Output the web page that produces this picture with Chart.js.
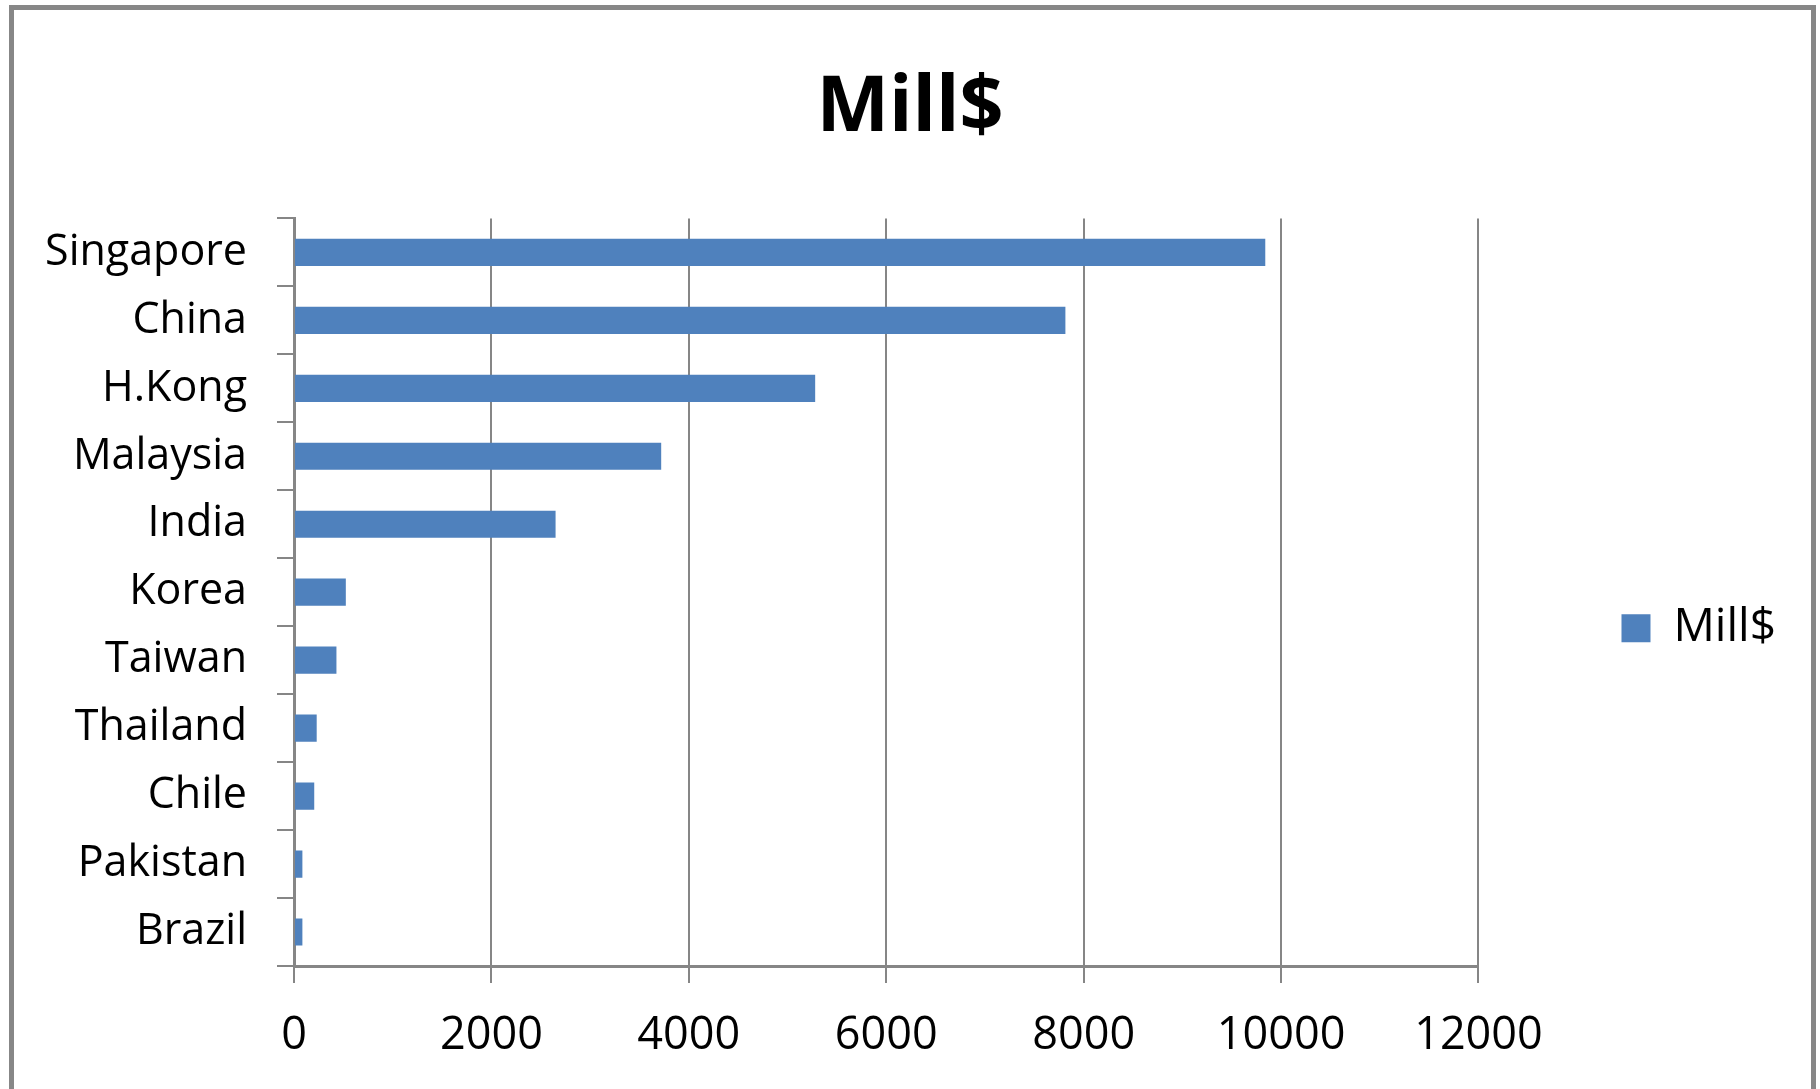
<!DOCTYPE html>
<html>
<head>
<meta charset="utf-8">
<script src="https://cdn.jsdelivr.net/npm/chart.js@4.4.1/dist/chart.umd.min.js"></script>
<style>
  html, body { margin: 0; padding: 0; background: #ffffff; }
  canvas { display: block; }
</style>
</head>
<body>
<canvas id="c" width="1820" height="1089"></canvas>
<script>
const categories = ["Singapore", "China", "H.Kong", "Malaysia", "India", "Korea", "Taiwan", "Thailand", "Chile", "Pakistan", "Brazil"];
const seriesName = "Mill$";
const millValues = [9840, 7815, 5280, 3720, 2650, 525, 430, 230, 205, 85, 85];
const xTicks = [0, 2000, 4000, 6000, 8000, 10000, 12000];

const FONT = "'Open Sans', 'Liberation Sans', sans-serif";
const GRID = '#868686';

const framePlugin = {
  id: 'frame',
  beforeDraw(chart) {
    const ctx = chart.ctx;
    ctx.save();
    ctx.fillStyle = '#ffffff';
    ctx.fillRect(0, 0, chart.width, chart.height);
    ctx.strokeStyle = '#878787';
    ctx.lineWidth = 5;
    ctx.strokeRect(11.5, 7.5, 1802, 1200);
    ctx.restore();
  }
};

new Chart(document.getElementById('c'), {
  type: 'bar',
  data: {
    labels: categories,
    datasets: [{
      label: seriesName,
      data: millValues,
      backgroundColor: '#4F81BD',
      borderWidth: 0,
      barPercentage: 0.4,
      categoryPercentage: 1.0
    }]
  },
  options: {
    indexAxis: 'y',
    responsive: false,
    animation: false,
    devicePixelRatio: 1,
    layout: { padding: { left: 34, right: 34, top: 0, bottom: 0 } },
    plugins: {
      title: {
        display: true,
        text: seriesName,
        color: '#000000',
        font: { family: FONT, size: 77, weight: 'bold', lineHeight: 1.2 },
        padding: { top: 63, bottom: 63 }
      },
      legend: {
        display: true,
        position: 'right',
        fullSize: false,
        align: 'center',
        title: {
          display: true,
          text: ' ',
          font: { family: FONT, size: 12, lineHeight: 1 },
          padding: { top: 0, bottom: 60 }
        },
        labels: {
          color: '#000000',
          font: { family: FONT, size: 46 },
          boxWidth: 29,
          boxHeight: 28,
          padding: 143
        }
      },
      tooltip: { enabled: false }
    },
    scales: {
      x: {
        type: 'linear',
        min: 0,
        max: 12000,
        afterBuildTicks(scale) {
          scale.ticks = xTicks.map(v => ({ value: v }));
        },
        ticks: {
          color: '#000000',
          font: { family: FONT, size: 45 },
          padding: 26,
          maxRotation: 0,
          callback: (v) => String(v)
        },
        grid: {
          color: GRID,
          lineWidth: 2,
          drawOnChartArea: true,
          drawTicks: true,
          tickLength: 17,
          tickColor: GRID
        },
        border: { display: true, color: GRID, width: 3 }
      },
      y: {
        type: 'category',
        offset: true,
        afterFit(scale) { scale.width = 260; },
        ticks: {
          color: '#000000',
          font: { family: FONT, size: 43 },
          padding: 30,
          autoSkip: false
        },
        grid: {
          offset: true,
          display: true,
          drawOnChartArea: false,
          drawTicks: true,
          tickLength: 17,
          color: GRID,
          lineWidth: 2
        },
        border: { display: true, color: GRID, width: 3 }
      }
    }
  },
  plugins: [framePlugin]
});
</script>
</body>
</html>
